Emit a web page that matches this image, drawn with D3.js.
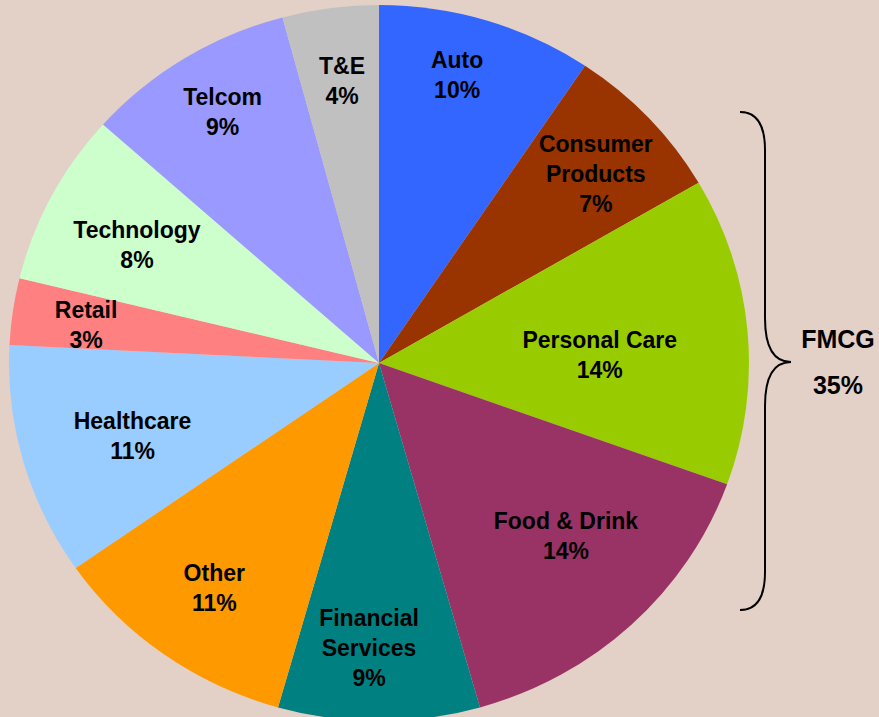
<!DOCTYPE html>
<html>
<head>
<meta charset="utf-8">
<script src="https://cdn.jsdelivr.net/npm/d3@7"></script>
<style>
  html, body { margin: 0; padding: 0; background: #e3d0c7; }
  svg { display: block; }
  text { font-family: "Liberation Sans", Arial, sans-serif; font-weight: bold; fill: #000; }
</style>
</head>
<body>
<svg id="chart"></svg>
<script>
// share of spend by sector (percent)
var categories = ["Auto", "Consumer Products", "Personal Care", "Food & Drink", "Financial Services",
                  "Other", "Healthcare", "Retail", "Technology", "Telcom", "T&E"];
var shares = [9.4, 7.2, 13.9, 15.1, 8.8, 10.9, 10.5, 3.0, 7.8, 9.2, 4.2];
var pctLabels = ["10%", "7%", "14%", "14%", "9%", "11%", "11%", "3%", "8%", "9%", "4%"];
var colors = ["#3366ff", "#993300", "#99cc00", "#993366", "#008080",
              "#ff9900", "#99ccff", "#ff8080", "#ccffcc", "#9999ff", "#c0c0c0"];
var fmcg = ["Consumer Products", "Personal Care", "Food & Drink"];

// nudges of the labels away from the slice centroid (px)
var labelNudge = [[-8, -14], [1, 7], [-74, 18], [-15, -36], [-10, -1],
                  [7, -8], [38, -6], [0, 3], [20, 15], [-1, -7], [2, 2]];

var width = 879, height = 717;
var cx = 379, cy = 363, rx = 370, ry = 358;
var squash = ry / rx;

var svg = d3.select("#chart")
    .attr("width", width)
    .attr("height", height);

var data = categories.map(function(c, i) {
  return { label: c, value: shares[i], pct: pctLabels[i], color: colors[i], idx: i };
});

var pie = d3.pie()
    .sort(null)
    .value(function(d) { return d.value; });

var arc = d3.arc()
    .innerRadius(0)
    .outerRadius(rx);

var labelArc = d3.arc()
    .innerRadius(rx * 0.8)
    .outerRadius(rx * 0.8);

var arcs = pie(data);

var pieG = svg.append("g")
    .attr("transform", "translate(" + cx + "," + cy + ") scale(1," + squash + ")");

pieG.selectAll("path.slice")
    .data(arcs)
    .enter()
    .append("path")
    .attr("class", "slice")
    .attr("d", arc)
    .attr("fill", function(d) { return d.data.color; });

var lineH = 30;
var labels = svg.append("g")
    .attr("transform", "translate(" + cx + "," + cy + ")");

labels.selectAll("text")
    .data(arcs)
    .enter()
    .append("text")
    .style("font-size", "23px")
    .attr("text-anchor", "middle")
    .each(function(d) {
      var c = labelArc.centroid(d);
      var nudge = labelNudge[d.data.idx];
      var x = c[0] + nudge[0];
      var y = c[1] * squash + nudge[1];
      var words = d.data.label;
      var lines = (words == "Consumer Products" || words == "Financial Services")
          ? words.split(" ") : [words];
      lines.push(d.data.pct);
      var first = y - (lines.length - 1) * lineH / 2 + 8;
      var t = d3.select(this);
      lines.forEach(function(l, i) {
        t.append("tspan")
          .attr("x", x)
          .attr("y", first + i * lineH)
          .text(l);
      });
    });

// FMCG brace on the right
var fmcgTotal = d3.sum(data.filter(function(d) { return fmcg.indexOf(d.label) >= 0; }),
                       function(d) { return parseInt(d.pct); });

var brace = d3.path();
brace.moveTo(740, 112);
brace.quadraticCurveTo(765, 112, 765, 150);
brace.lineTo(765, 318);
brace.quadraticCurveTo(765, 362, 791, 362);
brace.quadraticCurveTo(765, 362, 765, 406);
brace.lineTo(765, 572);
brace.quadraticCurveTo(765, 610, 740, 610);

svg.append("path")
    .attr("d", brace.toString())
    .attr("fill", "none")
    .attr("stroke", "#000")
    .attr("stroke-width", 2);

svg.append("text")
    .attr("x", 838)
    .attr("y", 348)
    .attr("text-anchor", "middle")
    .style("font-size", "25px")
    .text("FMCG");

svg.append("text")
    .attr("x", 838)
    .attr("y", 394)
    .attr("text-anchor", "middle")
    .style("font-size", "25px")
    .text(fmcgTotal + "%");
</script>
</body>
</html>
